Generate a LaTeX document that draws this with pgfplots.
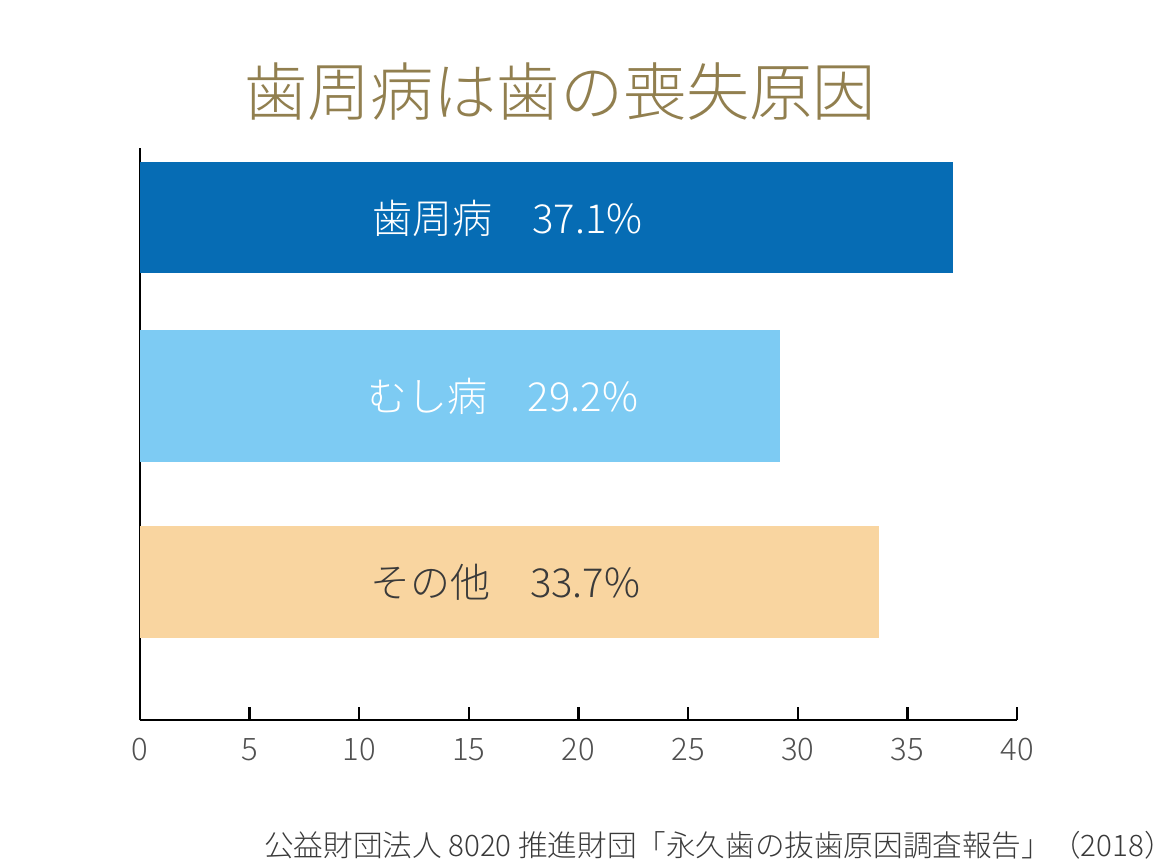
\documentclass[border=0pt]{standalone}
\usepackage{fontspec}
\setmainfont{Noto Sans CJK JP}[UprightFont={* Light}]
\usepackage{pgfplots}
\pgfplotsset{compat=1.18}
\definecolor{cblue}{HTML}{066CB4}
\definecolor{clight}{HTML}{7DCBF3}
\definecolor{cpeach}{HTML}{F9D5A0}
\definecolor{titlec}{HTML}{917F4F}
\definecolor{tickgray}{HTML}{505050}
\definecolor{darktext}{HTML}{3A3A3A}
\begin{document}
\begin{tikzpicture}
\useasboundingbox (0,0) rectangle (582.5pt,433.5pt);
\begin{axis}[
  at={(70pt,73.5pt)}, anchor=south west,
  scale only axis, width=438.5pt, height=286pt,
  xmin=0, xmax=40, ymin=0, ymax=572,
  xbar,
  axis x line*=bottom, axis y line*=left,
  ytick=\empty, xtick={0,5,...,40},
  tick align=inside, major tick length=6.5pt,
  every tick/.style={black, line width=1.2pt},
  axis line style={line width=1.2pt, black},
  xticklabel style={font=\fontsize{15.5}{18}\selectfont, text=tickgray, yshift=-5.5pt},
  /pgf/number format/assume math mode=true,
  clip=false,
]
\addplot[fill=cblue, draw=none, bar width=111, bar shift=0pt] coordinates {(37.1,502)};
\addplot[fill=clight, draw=none, bar width=132, bar shift=0pt] coordinates {(29.2,324)};
\addplot[fill=cpeach, draw=none, bar width=111, bar shift=0pt] coordinates {(33.7,138)};
\node[text=white, font=\fontsize{20}{24}\selectfont] at (axis cs:16.75,502) {歯周病　37.1\%};
\node[text=white, font=\fontsize{20}{24}\selectfont] at (axis cs:16.55,324) {むし病　29.2\%};
\node[text=darktext, font=\fontsize{20}{24}\selectfont] at (axis cs:16.65,138) {その他　33.7\%};
\end{axis}
\node[text=titlec, font=\fontsize{31.6}{36}\selectfont] at (280pt,387.5pt) {歯周病は歯の喪失原因};
\node[anchor=east, text=darktext, font=\fontsize{14.8}{16}\selectfont, inner sep=0pt] at (580pt,11pt) {公益財団法人 8020 推進財団「永久歯の抜歯原因調査報告」（2018）\kern-7pt};
\end{tikzpicture}
\end{document}
